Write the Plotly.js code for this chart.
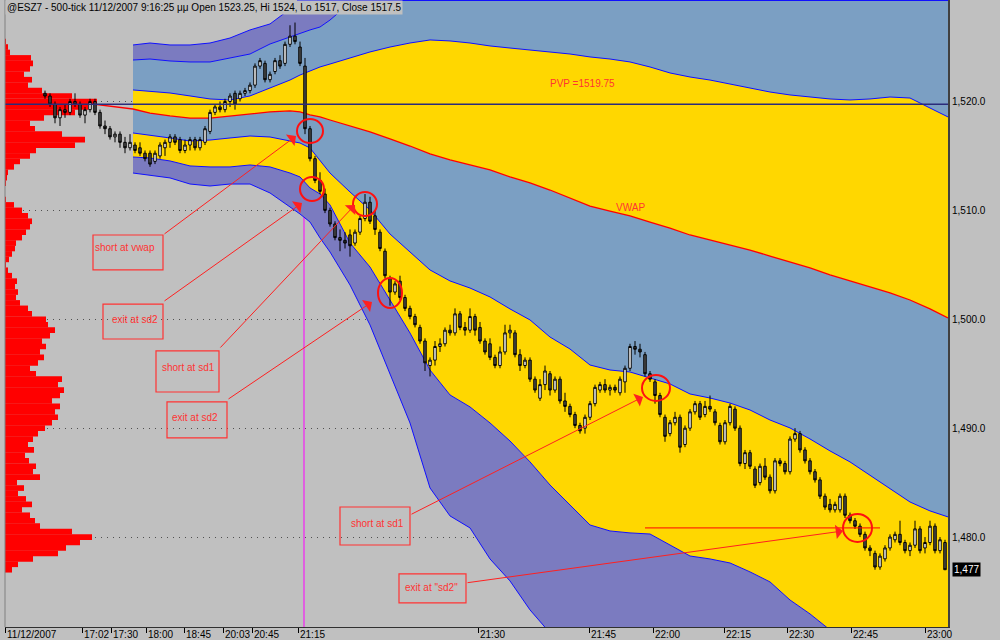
<!DOCTYPE html>
<html><head><meta charset="utf-8">
<script src="https://cdn.plot.ly/plotly-3.0.1.min.js"></script>
<style>html,body{margin:0;padding:0;background:#c0c0c0;}#chart{width:1000px;height:640px;}</style>
</head><body><div id="chart"></div>
<script>
// ---------- DATA ----------
const firstBar = 8;
const opens = [1520.75,1520.5,1519.75,1518.5,1519.25,1519,1520,1519.75,1518.75,1519.25,1520,1519,1517.75,1517.5,1516.75,1517,1516.25,1515.75,1516,1515.75,1515.25,1515.25,1514.5,1515,1515.75,1516.25,1516.75,1516.5,1515.5,1516,1516.5,1515.75,1516.25,1517.25,1519,1519.5,1519.25,1520,1520.75,1520.25,1520.75,1521,1521.5,1523.25,1523.5,1522,1522.75,1523.75,1523.5,1525.25,1526,1525,1523.25,1517.5,1514.75,1512.75,1511.5,1510,1508.75,1507.5,1507.25,1507.75,1507,1508,1509.25,1510.75,1509.5,1508,1506.25,1503.75,1502.5,1503.5,1502,1501,1500.25,1499.25,1498,1495.75,1496.25,1497.5,1497.75,1499,1498.75,1500.5,1499.25,1499,1500.25,1499.25,1498,1497.75,1496.5,1495.75,1497,1498.75,1498.75,1496.75,1495.75,1496.25,1494.5,1492.75,1494,1495,1493.5,1494.5,1492.5,1492,1491.25,1490.25,1490,1491,1492.25,1493.5,1494,1493.5,1493.75,1493.25,1494.25,1495.5,1497.5,1497.25,1496.75,1495,1494.25,1493,1491,1489.5,1490.5,1491,1488.5,1490,1491.5,1492.25,1491.25,1492,1491.5,1490.25,1488.75,1490.5,1491.75,1490,1486.75,1487.75,1486.25,1485,1486.5,1485.5,1484.25,1487,1486.75,1486,1489,1489.5,1488,1487,1486,1485.25,1483.75,1483,1482.5,1482.5,1483.75,1482,1481.5,1481,1480.25,1479,1478.5,1477.25,1478,1479,1479.75,1480.25,1479.5,1478.75,1479.25,1480.75,1479,1479.5,1481,1478.75,1479.5];
const highs = [1521,1520.75,1520,1519.5,1519.75,1520.25,1520.75,1520,1519.5,1520.25,1520.25,1519.25,1518.25,1517.75,1517.25,1517.25,1516.75,1517,1516.25,1516.25,1515.5,1515.5,1515.5,1516.25,1516.5,1517,1517,1516.75,1516.5,1516.75,1516.75,1516.75,1517.75,1519.25,1519.75,1520,1520.25,1520.75,1521,1521,1521.25,1521.75,1523.5,1524,1523.75,1522.75,1524,1524.25,1525.5,1527,1527.25,1525.5,1524,1517.75,1515,1513.5,1512,1510.25,1509,1508.25,1508,1508.25,1508.25,1509.5,1511.5,1511.25,1510,1508.25,1506.5,1504,1503.5,1504,1502.25,1501.25,1500.5,1499.5,1498.25,1496.5,1498,1498.25,1499.25,1499.5,1501,1500.75,1499.75,1501,1500.5,1499.75,1498.25,1498.25,1496.75,1497.5,1499.5,1499.5,1499,1497.25,1496.5,1496.5,1494.75,1494.5,1495.75,1495.25,1494.75,1494.75,1493.25,1492.25,1491.5,1490.5,1491.25,1492.5,1494,1494.25,1494.5,1494,1494,1494.75,1495.75,1497.75,1498,1497.75,1497,1495.25,1494.5,1493.25,1491.25,1490.75,1491.5,1491.25,1490.25,1491.75,1492.5,1492.5,1492.5,1493,1491.75,1490.5,1490.75,1492.25,1492,1490.25,1488,1488,1486.5,1486.75,1487.25,1485.75,1487.25,1487.25,1487,1489.25,1490,1489.75,1488.25,1487.25,1486.25,1485.5,1484,1483.5,1483.25,1484,1484,1482.25,1481.75,1481.25,1480.5,1479.25,1478.75,1478.5,1479.25,1480.25,1480.5,1481.5,1479.75,1479.5,1481.5,1481,1480,1481.5,1481.25,1480,1479.75];
const lows = [1520.25,1519.5,1518,1517.75,1518.5,1518.75,1519.5,1518.5,1518,1519,1518.75,1517.5,1517,1516.5,1516.25,1515.75,1515.25,1515.5,1515.25,1515,1514.5,1514,1514.25,1514.75,1515,1515.75,1516,1515.25,1515.25,1515.5,1515.5,1515.5,1516,1517,1518.75,1519,1519,1519.5,1519.25,1520,1520.5,1520.75,1521.25,1523,1521.75,1521.75,1522.5,1523,1523.25,1525,1525.25,1523.25,1517,1514.5,1512.5,1511.5,1509.75,1508.5,1507.25,1506.25,1506.5,1505.75,1506.75,1507.75,1509,1508.75,1507.75,1506.25,1503.75,1501.25,1502.25,1501.75,1500.75,1500,1499.25,1497.75,1495.25,1494.75,1495.75,1497,1497.5,1498.5,1498.5,1499,1498.5,1498.75,1498.5,1497.75,1496.75,1496.25,1495.5,1495.5,1496.75,1498.25,1496.5,1495.25,1495.5,1494.25,1493.25,1492.5,1493.5,1493,1493.25,1492.25,1491.5,1491,1490,1489.5,1489.5,1490.75,1492,1493.25,1493.25,1493,1493.25,1493,1493.25,1495.25,1496.75,1496.5,1494.75,1494.25,1492.25,1491,1488.75,1489.25,1490.25,1487.75,1488.25,1489.75,1491.25,1490.75,1491,1491.5,1490.25,1488.5,1488.5,1490.25,1489.75,1486.5,1486.25,1486.25,1484.5,1484.75,1485.25,1484,1484,1486.5,1485.75,1485.75,1488.75,1487.75,1486.75,1485.75,1485,1483.5,1482.5,1482.25,1482.25,1482.25,1481.75,1481.25,1480.75,1480,1478.75,1478.25,1477,1477,1477.75,1478.75,1479.5,1479.25,1478.5,1478.25,1479,1478.5,1478.5,1479.25,1478.5,1478.5,1477];
const closes = [1520.5,1519.75,1518.5,1519.25,1519,1520,1519.75,1518.75,1519.25,1520,1519,1517.75,1517.5,1516.75,1517,1516.25,1515.75,1516.25,1515.5,1515.25,1514.75,1514.25,1515.25,1516,1516.25,1516.75,1516.25,1515.5,1516,1516.5,1515.75,1516.5,1517.5,1519,1519.5,1519.25,1520,1520.5,1519.75,1520.75,1521,1521.5,1523.25,1523.75,1522,1522.5,1523.75,1523.25,1525.25,1526,1525.5,1523.5,1517.5,1514.75,1512.75,1511.75,1510,1508.75,1507.5,1507.25,1507,1506.75,1508,1509.25,1510.75,1509,1508.25,1506.5,1504,1502.5,1503.25,1502,1501,1500.25,1499.5,1498,1496,1496.25,1497.5,1497.75,1499,1498.75,1500.5,1499.25,1499,1500.25,1499,1498,1497,1496.5,1495.75,1497,1498.75,1499,1496.75,1495.75,1496.25,1494.5,1493.5,1494,1495.25,1493.5,1494.5,1492.5,1492,1491.25,1490.25,1489.75,1491,1492.25,1493.75,1494,1493.5,1493.75,1493.5,1494.5,1495.5,1497.5,1497.25,1497,1495,1494.5,1493,1491.25,1489.25,1490.5,1491,1488.25,1490,1491.5,1492.25,1491,1492,1491.75,1490.5,1488.75,1490.5,1492,1490,1486.75,1487.75,1486.5,1484.75,1486.5,1485.5,1484.25,1487,1486.75,1486,1489,1489.5,1488,1487,1486,1485.25,1483.75,1482.75,1482.5,1483,1483.75,1482,1481.5,1481,1480.25,1479,1478.75,1477.25,1478.25,1479,1480,1480.25,1479.5,1478.75,1479.25,1480.75,1478.75,1479.5,1481,1478.75,1479.75,1477];

// VWAP and standard-deviation bands (price), sampled at these bar numbers
const bandBars = [25.6,29,33,37,41,45,49,53,57,59,61,63,65,69,73,77,81,85,89,93,97,101,105,109,113,117,121,125,129,133,137,141,145,149,153,157,161,165,169,173,177,181,185,188.6];
const vwap = [1519.31,1518.94,1518.67,1518.48,1518.48,1518.67,1518.85,1519.04,1519.13,1519.04,1518.76,1518.58,1518.30,1517.75,1517.20,1516.56,1515.91,1515.18,1514.63,1514.17,1513.71,1513.07,1512.52,1511.87,1511.14,1510.40,1509.94,1509.49,1508.93,1508.38,1507.74,1507.28,1506.82,1506.36,1505.81,1505.26,1504.71,1504.07,1503.52,1502.97,1502.42,1501.77,1500.95,1500.12];
const sd1Upper = [1521.06,1520.96,1520.78,1520.51,1520.23,1520.14,1520.51,1521.24,1521.97,1522.43,1522.80,1523.17,1523.44,1523.99,1524.55,1525.00,1525.37,1525.65,1525.56,1525.37,1525.10,1524.91,1524.73,1524.55,1524.36,1524.09,1523.90,1523.63,1523.17,1522.62,1522.25,1521.97,1521.61,1521.24,1520.87,1520.60,1520.41,1520.23,1520.14,1520.23,1520.41,1520.32,1519.40,1518.58];
const sd2Upper = [1523.81,1523.90,1523.72,1523.63,1523.63,1523.99,1524.36,1525.28,1525.92,1526.29,1526.57,1526.84,1527.48,1529.05,1530.42,1532.08,1533.45,1534.83,1535.75,1536.21,1536.67,1536.9,1537.0,1537.2,1537.5,1537.8,1537.9,1537.8,1537.4,1536.9,1536.8,1536.7,1536.4,1536.1,1535.9,1535.9,1536.1,1536.4,1536.8,1537.5,1538.4,1538.9,1537.9,1537.0];
const sd3Upper = [1525.19,1525.37,1525.19,1525.19,1525.37,1525.83,1526.57,1527.12,1528.49,1529.41,1530.24,1530.97,1531.62,1533.5,1535.2,1537.2,1539.0,1540.6,1541.5,1542.0,1542.5,1542.8,1543.0,1543.4,1543.8,1544.2,1544.4,1544.4,1544.1,1543.6,1543.5,1543.4,1543.2,1542.9,1542.8,1542.9,1543.2,1543.7,1544.2,1545.1,1546.3,1547.0,1546.1,1545.3];
const sd1Lower = [1517.11,1516.92,1516.65,1516.37,1516.46,1516.65,1516.83,1516.74,1516.37,1516.19,1515.73,1514.63,1513.43,1511.69,1510.04,1507.83,1506.18,1504.53,1503.52,1502.87,1502.05,1500.95,1499.94,1498.37,1497.27,1495.80,1495.34,1495.16,1494.61,1494.06,1493.14,1492.77,1492.31,1491.67,1490.75,1490.02,1489.01,1487.91,1486.90,1485.70,1484.42,1483.22,1482.40,1481.85];
const sd2Lower = [1514.90,1514.81,1514.54,1514.08,1513.99,1513.99,1514.17,1513.99,1513.43,1513.07,1512.06,1511.51,1510.50,1507.01,1504.80,1501.77,1498.74,1495.34,1493.05,1491.95,1490.48,1488.82,1486.90,1484.78,1482.95,1481.11,1480.56,1480.38,1480.28,1479.27,1478.26,1477.99,1477.62,1476.80,1475.88,1474.22,1472.94,1471.47,1470.09,1468.71,1467.61,1466.69,1465.96,1465.50];
const sd3Lower = [1513.43,1513.25,1512.98,1512.42,1512.24,1512.42,1512.42,1511.60,1510.31,1509.67,1508.93,1507.47,1506.18,1503.15,1499.48,1495.07,1490.48,1484.51,1481.94,1480.84,1477.99,1475.97,1473.31,1471.19,1469.63,1468.26,1466.88,1465.96,1465.04,1464.12,1463.21,1462.47,1461.83,1461.18,1460.63,1459.99,1459.53,1459.07,1458.61,1458.15,1457.70,1457.24,1456.78,1456.32];
// VWAP before the bands start
const vwapLeadBars = [14.4,19,23,25.6];
const vwapLead = [1519.95,1519.68,1519.45,1519.31];

// Volume profile: one value per 0.5 point from 1477.0 to 1527.0
const profileLow = 1477, profileStep = 0.5;
const profileVolume = [12,18,33,58,66,80,92,72,40,35,30,22,32,26,18,24,17,40,33,36,29,25,34,28,33,38,45,52,58,55,60,52,60,64,58,62,36,30,38,44,40,46,42,50,55,48,46,32,28,20,16,18,15,17,12,8,6,9,12,15,16,22,26,30,32,28,22,14,6,5,5,6,7,8,14,20,30,36,75,85,62,35,30,44,75,88,97,72,42,28,32,24,30,33,31,10,8,6,5,4,3];

const tickBars = [0,15.4,21.2,28.2,35.8,43.6,49.4,58.6,94.6,116.8,129.6,143.8,156.4,169.2,184];
const tickLabels = ['11/12/2007','17:02','17:30','18:00','18:45','20:03','20:45','21:15','21:30','21:45','22:00','22:15','22:30','22:45','23:00'];
const priceTicks = [1480,1490,1500,1510,1520];
const pvpPrice = 1519.75;
const lastPrice = 1477;
const markerBar = 59.8;

// trade annotations: [text, textBar, textPrice, box x0,x1,y0,y1, arrow tail bar, tail price, head bar, head price]
const notes = [
 ['short at vwap', 24.0, 1506.55, 17.6,31.6,1504.53,1507.74, 31.6,1507.74, 58.2,1516.83],
 ['exit at sd2',   26.0, 1499.94, 19.6,31.6,1498.19,1501.40, 31.6,1501.59, 59.4,1510.68],
 ['short at sd1',  36.6, 1495.53, 30.2,42.8,1493.32,1497.09, 42.8,1497.27, 70.0,1510.50],
 ['exit at sd2',   38.0, 1490.94, 32.4,44.4,1489.10,1492.41, 44.4,1492.59, 73.4,1501.59],
 ['short at sd1',  74.4, 1481.29, 67.0,81.0,1479.27,1482.76, 81.0,1482.03, 127.6,1492.87],
 ['exit at "sd2"', 85.2, 1475.33, 78.8,92.2,1473.95,1476.61, 92.2,1475.79, 167.6,1480.56]
];
const circles = [[58.4,63.6,1516.19,1518.39],[59,63.8,1510.86,1513.07],[69.6,74.4,1509.49,1511.69],[74.6,79.4,1501.04,1503.79],[127.4,133,1492.50,1494.89],[167.6,173.4,1479.55,1482.12]];
const exitLevel = {x0:128, x1:175, price:1480.84};

// ---------- STYLE ----------
const GREY='#c0c0c0', PURPLE='#7b7bc0', STEEL='#7b9fc3', YELLOW='#ffd700', BLUE='#1010ff', RED='#ff0000', NOTE='#ff3333';
const FONT='Liberation Sans, Arial, sans-serif';

const bars = opens.map((_,k)=>firstBar+k);
const levels = profileVolume.map((_,k)=>profileLow+profileStep*k);

function band(y, fill, fc, color, w){
  return {type:'scatter', mode:'lines', x:bandBars, y:y, xaxis:'x2', yaxis:'y',
    line:{color:color, width:w}, fill:fill, fillcolor:fc, hoverinfo:'skip', showlegend:false};
}

const data = [
  {type:'bar', orientation:'h', x:profileVolume, y:levels, width:profileStep*1.04, base:0,
   marker:{color:RED, line:{width:0}}, xaxis:'x', yaxis:'y', hoverinfo:'skip', showlegend:false},
  band(sd3Lower,'none',null,BLUE,1),
  band(sd2Lower,'tonexty',PURPLE,BLUE,1),
  band(sd1Lower,'tonexty',YELLOW,BLUE,1),
  band(vwap,'tonexty',STEEL,RED,1.3),
  band(sd1Upper,'tonexty',YELLOW,BLUE,1),
  band(sd2Upper,'tonexty',STEEL,BLUE,1),
  band(sd3Upper,'tonexty',PURPLE,BLUE,1),
  {type:'scatter', mode:'lines', x:vwapLeadBars, y:vwapLead, xaxis:'x2', yaxis:'y',
   line:{color:RED,width:1.3}, hoverinfo:'skip', showlegend:false},
  {type:'candlestick', x:bars, open:opens, high:highs, low:lows, close:closes, xaxis:'x3', yaxis:'y',
   increasing:{line:{color:'#000',width:1}, fillcolor:'#ffffff'},
   decreasing:{line:{color:'#000',width:1}, fillcolor:'#4d4d4d'},
   whiskerwidth:0, hoverinfo:'skip', showlegend:false}
];

const shapes = [
  {type:'line', xref:'x2', x0:markerBar, x1:markerBar, yref:'paper', y0:0, y1:1, line:{color:'#ff00ff', width:1}, layer:'below'},
  {type:'line', xref:'paper', x0:0, x1:1, yref:'y', y0:pvpPrice, y1:pvpPrice, line:{color:'#2b2b7a', width:1.5}, layer:'above'},
  {type:'line', xref:'paper', x0:0, x1:0, yref:'paper', y0:0, y1:1, line:{color:'#808080', width:1}, layer:'above'},
  {type:'line', xref:'x2', x0:58.4, x1:188.6, yref:'paper', y0:1, y1:1, line:{color:BLUE, width:2}, layer:'above'},
  {type:'line', xref:'x2', x0:exitLevel.x0, x1:exitLevel.x1, yref:'y', y0:exitLevel.price, y1:exitLevel.price, line:{color:RED, width:1}, layer:'above'}
];
notes.forEach(n=>{
  shapes.push({type:'rect', xref:'x2', yref:'y', x0:n[3], x1:n[4], y0:n[5], y1:n[6], line:{color:NOTE, width:1.2}, fillcolor:'rgba(0,0,0,0)', layer:'above'});
});
circles.forEach(c=>{
  shapes.push({type:'circle', xref:'x2', yref:'y', x0:c[0], x1:c[1], y0:c[2], y1:c[3], line:{color:'#ff1010', width:2}, layer:'above'});
});

const annotations = [
  {xref:'paper', yref:'paper', x:0, y:1, xanchor:'left', yanchor:'top',
   text:'@ESZ7 - 500-tick 11/12/2007 9:16:25 μμ Open 1523.25, Hi 1524, Lo 1517, Close 1517.5',
   showarrow:false, bgcolor:GREY, borderpad:1, font:{family:FONT, size:10, color:'#000'}},
  {xref:'x2', yref:'y', x:115.4, y:1521.61, text:'PVP =1519.75', showarrow:false, font:{family:FONT, size:10, color:NOTE}},
  {xref:'x2', yref:'y', x:125, y:1510.31, text:'VWAP', showarrow:false, font:{family:FONT, size:10, color:NOTE}},
  {xref:'paper', yref:'y', x:1, y:lastPrice, xanchor:'left', xshift:4, text:'1,477', showarrow:false,
   bgcolor:'#000', borderpad:1, font:{family:FONT, size:10, color:'#fff'}}
];
tickBars.forEach((b,k)=>{
  annotations.push({xref:'x2', yref:'paper', x:b, y:0, xanchor:'left', yanchor:'middle', xshift:0, yshift:-7,
    text:tickLabels[k], showarrow:false, font:{family:FONT, size:10, color:'#000'}});
});
notes.forEach(n=>{
  annotations.push({xref:'x2', yref:'y', x:n[1], y:n[2], text:n[0], showarrow:false, font:{family:FONT, size:10, color:NOTE}});
  annotations.push({xref:'x2', yref:'y', axref:'x2', ayref:'y', x:n[9], y:n[10], ax:n[7], ay:n[8], text:'',
    showarrow:true, arrowhead:1, arrowsize:2.4, arrowwidth:1, arrowcolor:'#ff2020', standoff:0});
});

const layout = {
  width:1000, height:640, margin:{l:5, r:52, t:0, b:13, pad:0},
  paper_bgcolor:GREY, plot_bgcolor:GREY, showlegend:false, hovermode:false,
  font:{family:FONT, size:10, color:'#000'},
  xaxis:{range:[5,948], visible:false, fixedrange:true},
  xaxis2:{overlaying:'x', anchor:'y', side:'bottom', range:[0,188.6], tickmode:'array', tickvals:tickBars,
    ticks:'outside', ticklen:5, tickcolor:'#000', tickwidth:1, showticklabels:false,
    showline:true, linecolor:'#303030', linewidth:1, showgrid:false, zeroline:false, rangeslider:{visible:false}},
  xaxis3:{overlaying:'x', anchor:'y', range:[0,188.6], visible:false, rangeslider:{visible:false}},
  yaxis:{range:[1471.74,1529.32], side:'right', tickmode:'array', tickvals:priceTicks, tickformat:',.1f',
    ticks:'', showline:true, linecolor:'#404040', linewidth:2, showgrid:true, gridcolor:'#505050', gridwidth:1,
    griddash:'1px,5px', zeroline:false, tickfont:{family:FONT, size:10, color:'#000'}},
  shapes:shapes, annotations:annotations
};

Plotly.newPlot('chart', data, layout, {staticPlot:true, displayModeBar:false});
</script></body></html>
